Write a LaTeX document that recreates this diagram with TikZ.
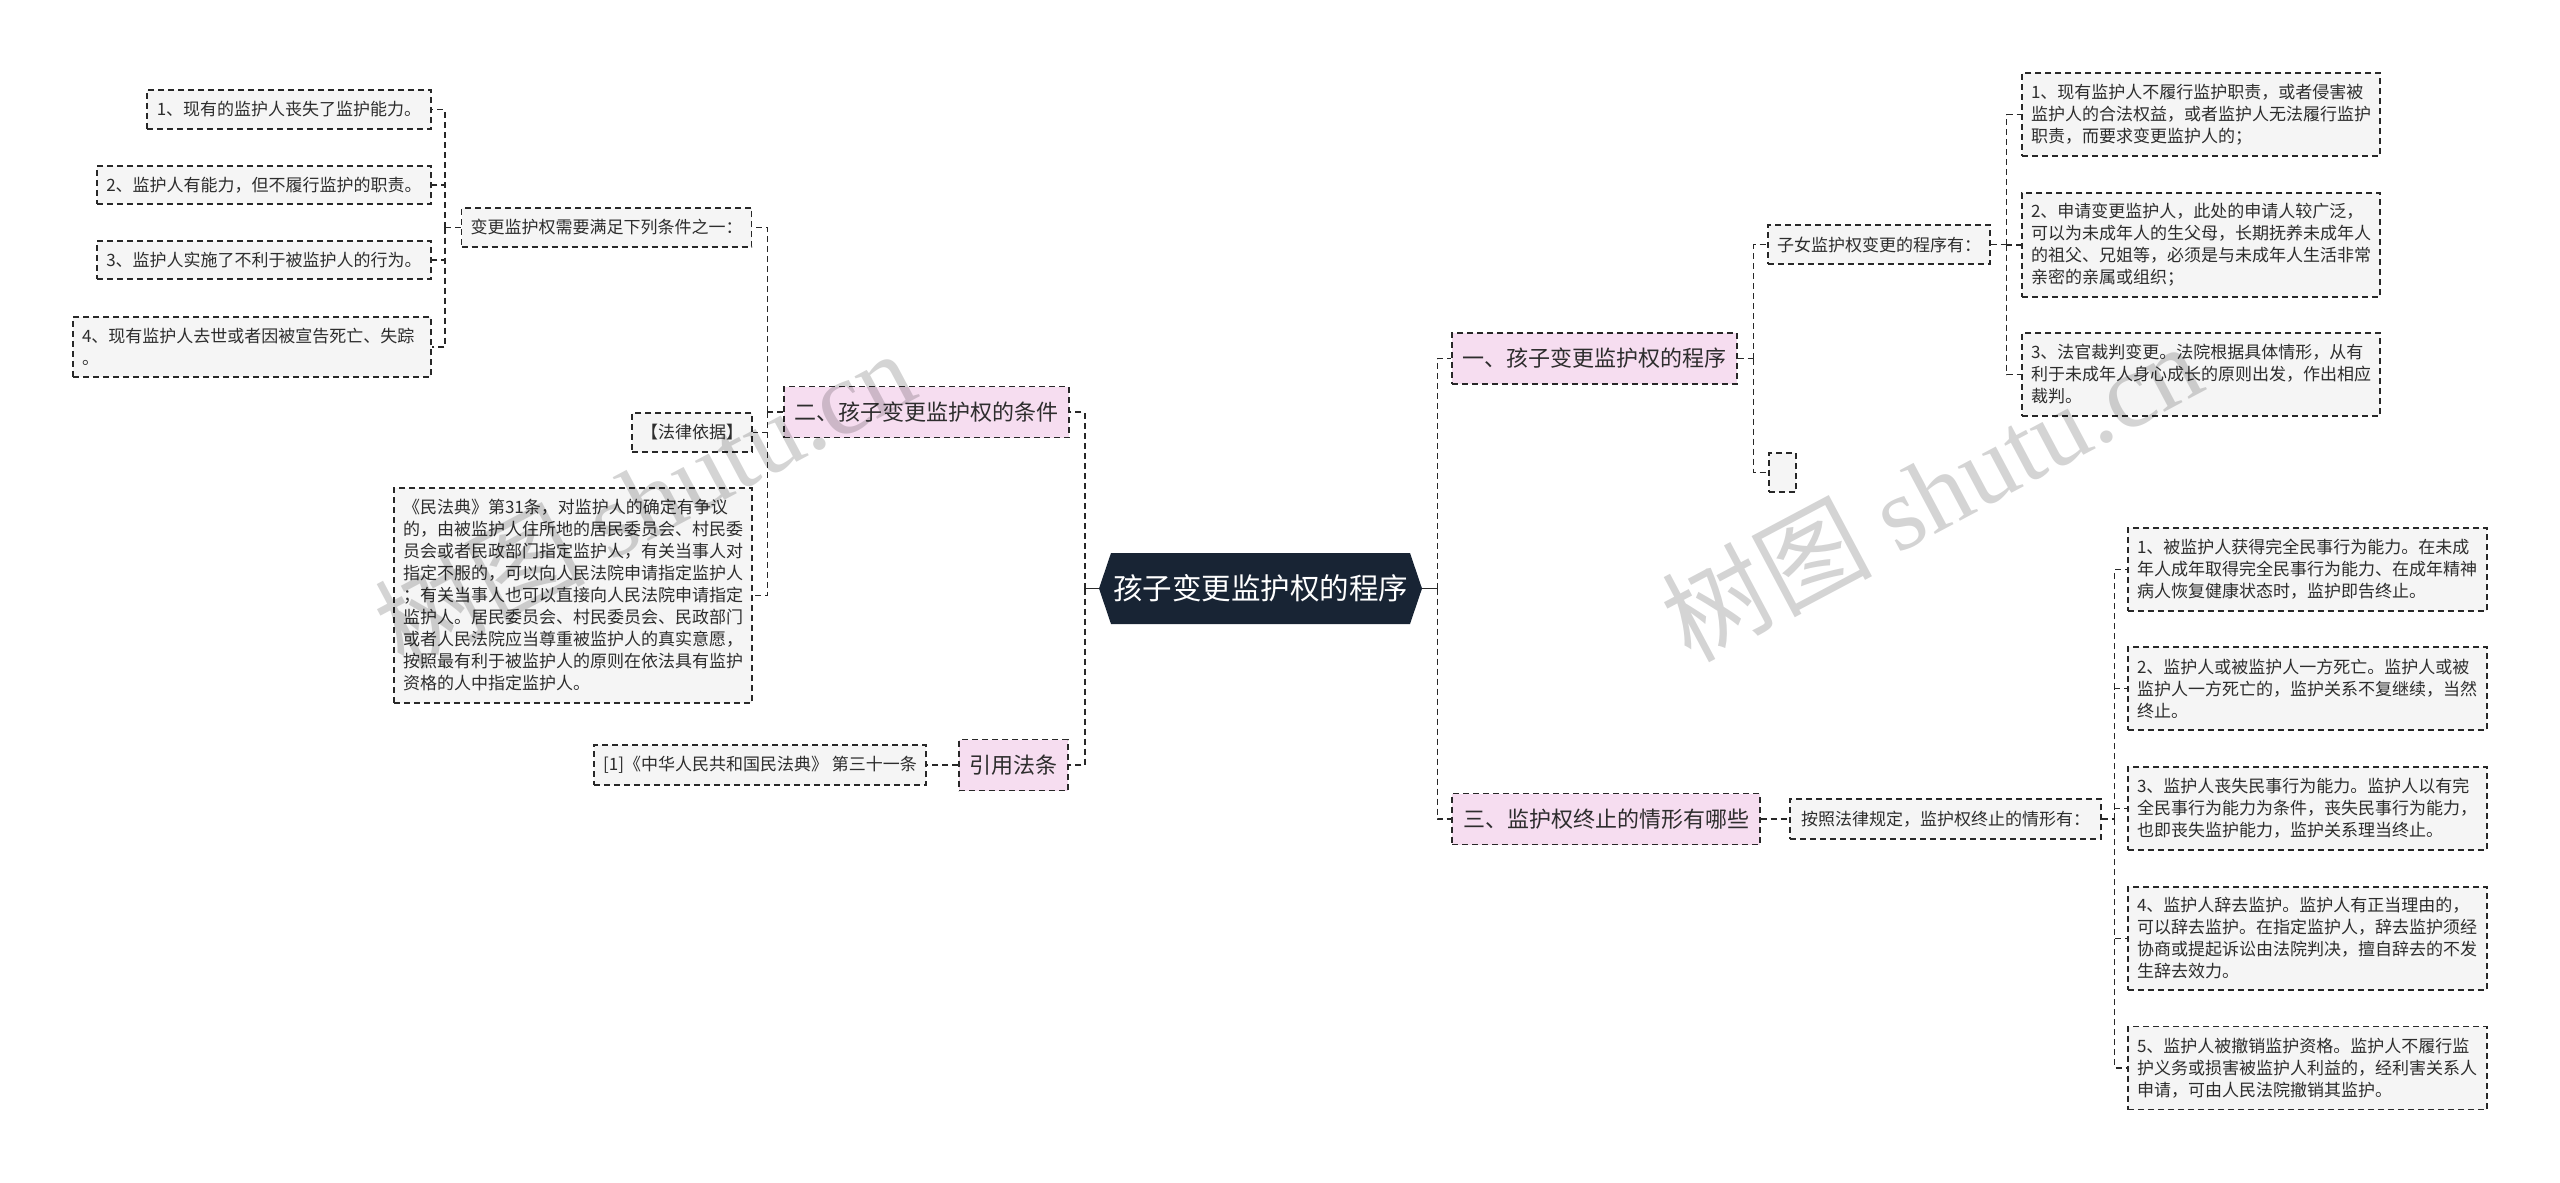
\documentclass[tikz,border=0pt]{standalone}
\usepackage{fontspec}
\setmainfont{Noto Sans CJK SC}
\newfontfamily\wmserif{Liberation Serif}
\definecolor{boxline}{RGB}{40,40,40}
\definecolor{boxfill}{RGB}{245,245,245}
\definecolor{pinkfill}{RGB}{246,221,240}
\definecolor{txt}{RGB}{45,45,45}
\definecolor{rootc}{RGB}{24,36,52}
\tikzset{
  dashln/.style={line width=1.4pt, dash pattern=on 6pt off 4pt},
  box/.style={draw=boxline, dashln, fill=boxfill, inner xsep=9pt, inner ysep=0pt,
              text=txt, font=\fontsize{17}{22}\selectfont},
  mbox/.style={box, align=left},
  lvl/.style={draw=boxline, dashln, fill=pinkfill, inner xsep=10pt, inner ysep=0pt,
              text=txt, font=\fontsize{22}{26}\selectfont, minimum height=51pt},
  rootnode/.style={minimum width=323pt, minimum height=71pt, inner sep=0pt, text=white,
              font=\fontsize{29.5}{34}\selectfont,
              path picture={\fill[rootc]
                ([xshift=12pt]path picture bounding box.north west) --
                ([xshift=-12pt]path picture bounding box.north east) --
                (path picture bounding box.east) --
                ([xshift=-12pt]path picture bounding box.south east) --
                ([xshift=12pt]path picture bounding box.south west) --
                (path picture bounding box.west) -- cycle;}},
  conn/.style={draw=boxline, dashln},
  rootln/.style={draw=boxline, line width=1.6pt},
  wm/.style={text=black, text opacity=0.17, inner sep=0pt,
             font=\fontsize{105}{105}\selectfont}
}
\begin{document}
\begin{tikzpicture}[x=1pt,y=-1pt]
\useasboundingbox (0,0) rectangle (2560,1183);
\fill[white] (0,0) rectangle (2560,1183);

% root
\node[rootnode] (root) at (1260.5,588.5) {孩子变更监护权的程序};

% ---------- left side ----------
\node[lvl, minimum width=285pt] (b2) at (926.5,412) {二、孩子变更监护权的条件};
\node[lvl, minimum width=109pt] (cite) at (1013.5,765) {引用法条};

\node[box, minimum width=289pt, minimum height=39pt] (cond) at (606.5,227.5) {变更监护权需要满足下列条件之一：};
\node[box, minimum width=120pt, minimum height=39pt] (law) at (692,432.5) {【法律依据】};
\node[mbox, text width=340pt, minimum height=215pt] (civ) at (573,595.5) {《民法典》第31条，对监护人的确定有争议\\的，由被监护人住所地的居民委员会、村民委\\员会或者民政部门指定监护人，有关当事人对\\指定不服的，可以向人民法院申请指定监护人\\；有关当事人也可以直接向人民法院申请指定\\监护人。居民委员会、村民委员会、民政部门\\或者人民法院应当尊重被监护人的真实意愿，\\按照最有利于被监护人的原则在依法具有监护\\资格的人中指定监护人。};

\node[box, minimum width=284pt, minimum height=39pt] (l1) at (289,109.5) {1、现有的监护人丧失了监护能力。};
\node[box, minimum width=334pt, minimum height=38pt] (l2) at (264,185) {2、监护人有能力，但不履行监护的职责。};
\node[box, minimum width=334pt, minimum height=38pt] (l3) at (264,260) {3、监护人实施了不利于被监护人的行为。};
\node[mbox, text width=340pt, minimum height=60pt] (l4) at (252,347) {4、现有监护人去世或者因被宣告死亡、失踪\\。};

\node[box, minimum width=332pt, minimum height=40pt] (ref) at (760,765) {[1]《中华人民共和国民法典》 第三十一条};

% ---------- right side ----------
\node[lvl, minimum width=285pt] (b1) at (1594.5,358.5) {一、孩子变更监护权的程序};
\node[lvl, minimum width=308pt] (b3) at (1606,819) {三、监护权终止的情形有哪些};

\node[box, minimum width=222pt, minimum height=39pt] (sub1) at (1879,244.5) {子女监护权变更的程序有：};
\node[box, minimum width=27pt, minimum height=39pt, inner xsep=0pt] (empty) at (1782.5,472.5) {};

\node[mbox, text width=340pt, minimum height=83pt] (r1) at (2201,114.5) {1、现有监护人不履行监护职责，或者侵害被\\监护人的合法权益，或者监护人无法履行监护\\职责，而要求变更监护人的；};
\node[mbox, text width=340pt, minimum height=104pt] (r2) at (2201,245) {2、申请变更监护人，此处的申请人较广泛，\\可以为未成年人的生父母，长期抚养未成年人\\的祖父、兄姐等，必须是与未成年人生活非常\\亲密的亲属或组织；};
\node[mbox, text width=340pt, minimum height=83pt] (r3) at (2201,374.5) {3、法官裁判变更。法院根据具体情形，从有\\利于未成年人身心成长的原则出发，作出相应\\裁判。};

\node[box, minimum width=311pt, minimum height=40pt] (sub3) at (1945.5,819) {按照法律规定，监护权终止的情形有：};

\node[mbox, text width=341pt, minimum height=83pt] (t1) at (2307.5,569.5) {1、被监护人获得完全民事行为能力。在未成\\年人成年取得完全民事行为能力、在成年精神\\病人恢复健康状态时，监护即告终止。};
\node[mbox, text width=341pt, minimum height=83pt] (t2) at (2307.5,688.5) {2、监护人或被监护人一方死亡。监护人或被\\监护人一方死亡的，监护关系不复继续，当然\\终止。};
\node[mbox, text width=341pt, minimum height=83pt] (t3) at (2307.5,808.5) {3、监护人丧失民事行为能力。监护人以有完\\全民事行为能力为条件，丧失民事行为能力，\\也即丧失监护能力，监护关系理当终止。};
\node[mbox, text width=341pt, minimum height=103pt] (t4) at (2307.5,938.5) {4、监护人辞去监护。监护人有正当理由的，\\可以辞去监护。在指定监护人，辞去监护须经\\协商或提起诉讼由法院判决，擅自辞去的不发\\生辞去效力。};
\node[mbox, text width=341pt, minimum height=83pt] (t5) at (2307.5,1068) {5、监护人被撤销监护资格。监护人不履行监\\护义务或损害被监护人利益的，经利害关系人\\申请，可由人民法院撤销其监护。};

% ---------- connectors ----------
\coordinate (jrl) at ([xshift=-14pt]root.west);
\coordinate (jrr) at ([xshift=15pt]root.east);
\draw[rootln] (root.west) -- (jrl);
\draw[rootln] (root.east) -- (jrr);
\draw[conn] (jrl) |- (b2.east);
\draw[conn] (jrl) |- (cite.east);
\draw[conn] (jrr) |- (b1.west);
\draw[conn] (jrr) |- (b3.west);

\coordinate (j2) at ([xshift=-16pt]b2.west);
\draw[conn] (b2.west) -- (j2);
\draw[conn] (j2) |- (cond.east);
\draw[conn] (j2) |- (law.east);
\draw[conn] (j2) |- (civ.east);

\coordinate (jc) at ([xshift=-16pt]cond.west);
\draw[conn] (cond.west) -- (jc);
\draw[conn] (jc) |- (l1.east);
\draw[conn] (jc) |- (l2.east);
\draw[conn] (jc) |- (l3.east);
\draw[conn] (jc) |- (l4.east);

\draw[conn] (cite.west) -- (ref.east);

\coordinate (j1) at ([xshift=16pt]b1.east);
\draw[conn] (b1.east) -- (j1);
\draw[conn] (j1) |- (sub1.west);
\draw[conn] (j1) |- (empty.west);

\coordinate (js1) at ([xshift=16pt]sub1.east);
\draw[conn] (sub1.east) -- (js1);
\draw[conn] (js1) |- (r1.west);
\draw[conn] (js1) |- (r2.west);
\draw[conn] (js1) |- (r3.west);

\draw[conn] (b3.east) -- (sub3.west);

\coordinate (js3) at ([xshift=13pt]sub3.east);
\draw[conn] (sub3.east) -- (js3);
\draw[conn] (js3) |- (t1.west);
\draw[conn] (js3) |- (t2.west);
\draw[conn] (js3) |- (t3.west);
\draw[conn] (js3) |- (t4.west);
\draw[conn] (js3) |- (t5.west);

% ---------- watermarks ----------
\node[wm, rotate=28] (wm1) at (644,498) {树图 {\wmserif shutu.cn}};
\node[wm, rotate=28] (wm2) at (1931,491) {树图 {\wmserif shutu.cn}};
\end{tikzpicture}
\end{document}
